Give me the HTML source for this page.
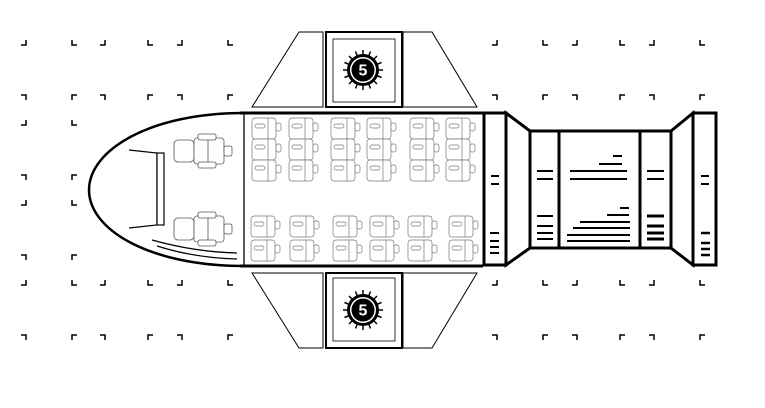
<!DOCTYPE html>
<html><head><meta charset="utf-8"><style>
html,body{margin:0;padding:0;background:#fff;width:765px;height:408px;overflow:hidden}
svg{display:block}
</style></head><body>
<svg width="765" height="408" viewBox="0 0 765 408" xmlns="http://www.w3.org/2000/svg">
<defs>
<g id="br"><path d="M-3,0 L2,0 L2,-5" fill="none" stroke="#000" stroke-width="1.5"/></g>
<g id="bl"><path d="M3,0 L-2,0 L-2,-5" fill="none" stroke="#000" stroke-width="1.5"/></g>
<g id="tr"><path d="M-3,0 L2,0 L2,5" fill="none" stroke="#000" stroke-width="1.5"/></g>
<g id="tl"><path d="M3,0 L-2,0 L-2,5" fill="none" stroke="#000" stroke-width="1.5"/></g>
<g id="seat" fill="#fff" stroke="#777" stroke-width="0.7">
<rect x="0" y="0" width="24" height="21" rx="3"/>
<line x1="16" y1="0" x2="16" y2="21"/>
<rect x="24" y="5" width="5" height="8" rx="2"/>
<rect x="3" y="6" width="10" height="4" rx="2"/>
</g>
<g id="c3"><use href="#seat" y="0"/><use href="#seat" y="21"/><use href="#seat" y="42"/></g>
<g id="c2"><use href="#seat" y="0"/><use href="#seat" y="24"/></g>
<g id="cs" fill="#fff" stroke="#555" stroke-width="0.8">
<rect x="0" y="4" width="20" height="22" rx="4"/>
<rect x="20" y="2" width="30" height="26" rx="3"/>
<rect x="24" y="-2" width="18" height="6" rx="2"/>
<rect x="24" y="26" width="18" height="6" rx="2"/>
<rect x="50" y="10" width="8" height="10" rx="2"/>
<line x1="34" y1="4" x2="34" y2="26"/>
</g>
<g id="sun">
<circle r="16" fill="#000"/>
<g stroke="#000" stroke-width="1.5">
<line x1="0" y1="-20" x2="0" y2="20"/><line x1="-20" y1="0" x2="20" y2="0"/>
<line x1="-14" y1="-14" x2="14" y2="14"/><line x1="-14" y1="14" x2="14" y2="-14"/>
<line x1="-7.5" y1="-18.5" x2="7.5" y2="18.5"/><line x1="7.5" y1="-18.5" x2="-7.5" y2="18.5"/>
<line x1="-18.5" y1="-7.5" x2="18.5" y2="7.5"/><line x1="-18.5" y1="7.5" x2="18.5" y2="-7.5"/>
</g>
<circle r="13" fill="#fff"/>
<circle r="11.5" fill="#000"/>
<text x="0" y="5.5" text-anchor="middle" font-family="Liberation Sans, sans-serif" font-weight="bold" font-size="16" fill="#fff">5</text>
</g>
</defs>

<g>
<use href="#br" x="24" y="45"/><use href="#bl" x="74" y="45"/><use href="#br" x="103" y="45"/><use href="#bl" x="150" y="45"/><use href="#br" x="180" y="45"/><use href="#bl" x="230" y="45"/>
<use href="#tr" x="24" y="95"/><use href="#tl" x="74" y="95"/><use href="#tr" x="103" y="95"/><use href="#tl" x="150" y="95"/><use href="#tr" x="180" y="95"/><use href="#tl" x="230" y="95"/>
<use href="#br" x="24" y="125"/><use href="#bl" x="74" y="125"/>
<use href="#tr" x="24" y="175"/><use href="#tl" x="74" y="175"/>
<use href="#br" x="24" y="205"/><use href="#bl" x="74" y="205"/>
<use href="#tr" x="24" y="255"/><use href="#tl" x="74" y="255"/>
<use href="#br" x="24" y="285"/><use href="#bl" x="74" y="285"/><use href="#br" x="103" y="285"/><use href="#bl" x="150" y="285"/><use href="#br" x="180" y="285"/><use href="#bl" x="230" y="285"/>
<use href="#tr" x="24" y="335"/><use href="#tl" x="74" y="335"/><use href="#tr" x="103" y="335"/><use href="#tl" x="150" y="335"/><use href="#tr" x="180" y="335"/><use href="#tl" x="230" y="335"/>
<use href="#br" x="495" y="45"/><use href="#bl" x="545" y="45"/><use href="#br" x="575" y="45"/><use href="#bl" x="622" y="45"/><use href="#br" x="652" y="45"/><use href="#bl" x="702" y="45"/>
<use href="#tr" x="495" y="95"/><use href="#tl" x="545" y="95"/><use href="#tr" x="575" y="95"/><use href="#tl" x="622" y="95"/><use href="#tr" x="652" y="95"/><use href="#tl" x="702" y="95"/>
<use href="#br" x="495" y="285"/><use href="#bl" x="545" y="285"/><use href="#br" x="575" y="285"/><use href="#bl" x="622" y="285"/><use href="#br" x="652" y="285"/><use href="#bl" x="702" y="285"/>
<use href="#tr" x="495" y="335"/><use href="#tl" x="545" y="335"/><use href="#tr" x="575" y="335"/><use href="#tl" x="622" y="335"/><use href="#tr" x="652" y="335"/><use href="#tl" x="702" y="335"/>
</g>

<g fill="#fff" stroke="#000">
<path d="M252,107 L299,32 L323,32 L323,107 Z" stroke-width="1"/>
<path d="M403,107 L403,32 L432,32 L477,107 Z" stroke-width="1"/>
<rect x="326" y="32" width="76" height="75" stroke-width="2"/>
<rect x="333" y="39" width="62" height="63" stroke-width="0.8"/>
<path d="M252,273 L299,348 L323,348 L323,273 Z" stroke-width="1"/>
<path d="M403,273 L403,348 L432,348 L477,273 Z" stroke-width="1"/>
<rect x="326" y="273" width="76" height="75" stroke-width="2"/>
<rect x="333" y="278" width="62" height="63" stroke-width="0.8"/>
</g>
<use href="#sun" x="363" y="70"/>
<use href="#sun" x="363" y="310"/>

<path d="M244,113 C150,113 89,150 89,190 C89,230 150,266 244,266" fill="none" stroke="#000" stroke-width="2.5"/>
<line x1="240" y1="113" x2="483" y2="113" stroke="#000" stroke-width="3"/>
<line x1="240" y1="266" x2="483" y2="266" stroke="#000" stroke-width="3"/>
<line x1="244" y1="113" x2="244" y2="266" stroke="#000" stroke-width="1.3"/>
<path d="M129,150 L157,153 L157,225 L129,228" fill="none" stroke="#000" stroke-width="1.2"/>
<rect x="157" y="153" width="7" height="72" fill="#fff" stroke="#000" stroke-width="1.2"/>
<path d="M152,240 Q195,252 237,253" fill="none" stroke="#000" stroke-width="1.2"/>
<path d="M157,246 Q195,258 237,259" fill="none" stroke="#000" stroke-width="1.2"/>
<use href="#cs" x="174" y="136"/>
<use href="#cs" x="174" y="214"/>

<use href="#c3" x="252" y="118"/><use href="#c3" x="289" y="118"/><use href="#c3" x="331" y="118"/><use href="#c3" x="367" y="118"/><use href="#c3" x="410" y="118"/><use href="#c3" x="446" y="118"/>
<use href="#c2" x="251" y="216"/><use href="#c2" x="290" y="216"/><use href="#c2" x="333" y="216"/><use href="#c2" x="370" y="216"/><use href="#c2" x="408" y="216"/><use href="#c2" x="449" y="216"/>

<g fill="#fff" stroke="#000" stroke-width="3" stroke-linejoin="miter">
<rect x="484" y="113" width="22" height="152"/>
<path d="M506,113 L530,131 L530,248 L506,265 Z"/>
<rect x="530" y="131" width="141" height="117"/>
<line x1="559" y1="131" x2="559" y2="248"/>
<line x1="640" y1="131" x2="640" y2="248"/>
<path d="M671,131 L693,113 L693,265 L671,248 Z"/>
<rect x="693" y="113" width="23" height="152"/>
</g>
<g stroke="#000" stroke-width="2">
<line x1="491" y1="176" x2="499" y2="176"/><line x1="491" y1="184" x2="499" y2="184"/>
<line x1="490" y1="233" x2="499" y2="233"/><line x1="490" y1="241" x2="499" y2="241"/><line x1="490" y1="247" x2="499" y2="247"/><line x1="490" y1="253" x2="499" y2="253"/>
<line x1="537" y1="171" x2="553" y2="171"/><line x1="537" y1="179" x2="553" y2="179"/>
<line x1="537" y1="216" x2="553" y2="216"/><line x1="537" y1="226" x2="553" y2="226"/><line x1="537" y1="233" x2="553" y2="233"/><line x1="537" y1="239" x2="553" y2="239"/>
<line x1="613" y1="156" x2="622" y2="156"/><line x1="599" y1="164" x2="622" y2="164"/>
<line x1="570" y1="171" x2="627" y2="171"/><line x1="570" y1="179" x2="627" y2="179"/>
<line x1="620" y1="208" x2="629" y2="208"/><line x1="607" y1="215" x2="629" y2="215"/><line x1="580" y1="222" x2="630" y2="222"/><line x1="573" y1="228" x2="630" y2="228"/><line x1="567" y1="235" x2="630" y2="235"/><line x1="567" y1="241" x2="630" y2="241"/>
<line x1="647" y1="171" x2="664" y2="171"/><line x1="647" y1="179" x2="664" y2="179"/>
<line x1="647" y1="216" x2="664" y2="216" stroke-width="3"/><line x1="647" y1="226" x2="664" y2="226" stroke-width="3"/><line x1="647" y1="233" x2="664" y2="233" stroke-width="3"/><line x1="647" y1="239" x2="664" y2="239" stroke-width="3"/>
<line x1="701" y1="176" x2="709" y2="176"/><line x1="701" y1="184" x2="709" y2="184"/>
<line x1="701" y1="233" x2="710" y2="233" stroke-width="2.5"/><line x1="701" y1="243" x2="710" y2="243" stroke-width="2.5"/><line x1="701" y1="249" x2="710" y2="249" stroke-width="2.5"/><line x1="701" y1="255" x2="710" y2="255" stroke-width="2.5"/>
</g>
</svg>
</body></html>
